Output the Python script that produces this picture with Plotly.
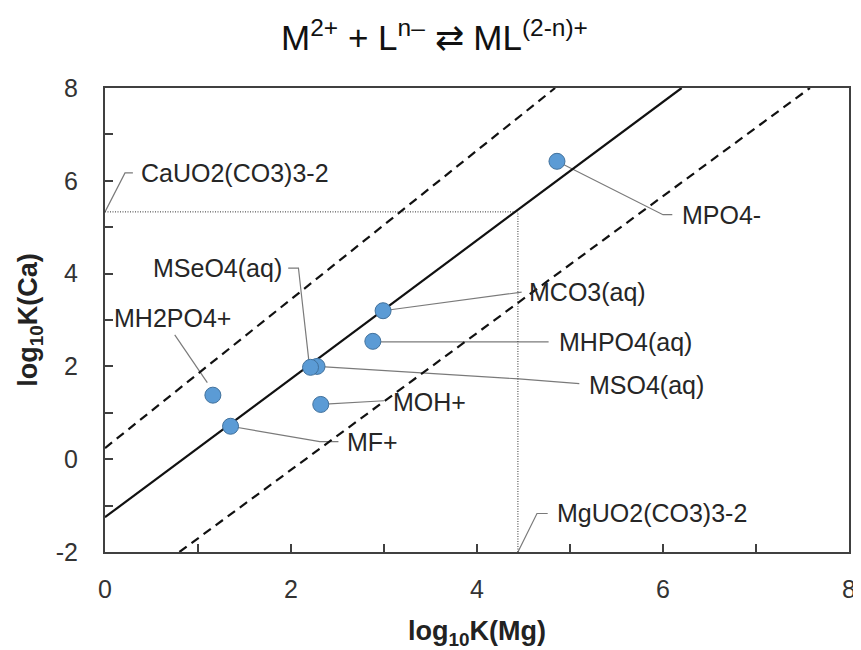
import plotly.graph_objects as go

# ---- data ----
species = ["MPO4-", "MCO3(aq)", "MHPO4(aq)", "MSO4(aq)", "MSeO4(aq)", "MH2PO4+", "MOH+", "MF+"]
logk_mg = [4.86, 2.99, 2.88, 2.28, 2.21, 1.16, 2.32, 1.35]
logk_ca = [6.42, 3.20, 2.54, 2.00, 1.98, 1.38, 1.18, 0.71]

fit_x = [0.0, 6.20]
fit_y = [-1.25, 8.0]
upper_x = [0.0, 4.84]
upper_y = [0.24, 8.0]
lower_x = [0.80, 7.58]
lower_y = [-2.0, 8.0]

uo2_mg = 4.44   # MgUO2(CO3)3-2
uo2_ca = 5.33   # CaUO2(CO3)3-2

x_ticks = [0, 2, 4, 6, 8]
x_ticktext = ["0", "2", "4", "6", "8"]
y_ticks = [-2, 0, 2, 4, 6, 8]
y_ticktext = ["-2", "0", "2", "4", "6", "8"]

# ---- label layout (text position, anchor, leader path) ----
labels = [
    ("MPO4-", 6.18, 5.27, "left", [(4.86, 6.42), (6.0, 5.27), (6.10, 5.27)]),
    ("MCO3(aq)", 4.54, 3.60, "left", [(2.99, 3.20), (4.40, 3.59), (4.48, 3.60)]),
    ("MHPO4(aq)", 4.86, 2.53, "left", [(2.88, 2.53), (4.77, 2.53)]),
    ("MSO4(aq)", 5.18, 1.61, "left", [(2.28, 2.00), (4.45, 1.73), (5.10, 1.63)]),
    ("MSeO4(aq)", 1.92, 4.12, "right", [(1.97, 4.12), (2.08, 4.12), (2.20, 1.98)]),
    ("MH2PO4+", 0.73, 3.05, "center", [(0.75, 2.68), (1.10, 1.65)]),
    ("MOH+", 3.07, 1.24, "left", [(2.32, 1.18), (3.00, 1.26)]),
    ("MF+", 2.58, 0.38, "left", [(1.35, 0.71), (2.31, 0.38), (2.51, 0.38)]),
    ("CaUO2(CO3)3-2", 0.37, 6.17, "left", [(0.0, uo2_ca), (0.215, 6.17), (0.30, 6.17)]),
    ("MgUO2(CO3)3-2", 4.84, -1.17, "left", [(uo2_mg, -2.0), (4.645, -1.17), (4.76, -1.17)]),
]

FONT = "Liberation Sans, Arial, sans-serif"

fig = go.Figure()

# leader lines
for name, tx, ty, anc, path in labels:
    fig.add_trace(go.Scatter(x=[p[0] for p in path], y=[p[1] for p in path], mode="lines",
                             line=dict(color="#7a7a7a", width=1.2), hoverinfo="skip",
                             showlegend=False))

# dotted guide lines
fig.add_trace(go.Scatter(x=[0, uo2_mg], y=[uo2_ca, uo2_ca], mode="lines",
                         line=dict(color="#333333", width=1, dash="1px,1.5px"), showlegend=False))
fig.add_trace(go.Scatter(x=[uo2_mg, uo2_mg], y=[-2, uo2_ca], mode="lines",
                         line=dict(color="#333333", width=1, dash="1px,1.5px"), showlegend=False))

# fit lines
fig.add_trace(go.Scatter(x=fit_x, y=fit_y, mode="lines",
                         line=dict(color="#111111", width=2.2), showlegend=False))
for lx, ly in [(upper_x, upper_y), (lower_x, lower_y)]:
    fig.add_trace(go.Scatter(x=lx, y=ly, mode="lines",
                             line=dict(color="#111111", width=2.2, dash="9px,6px"), showlegend=False))

# points
fig.add_trace(go.Scatter(x=logk_mg, y=logk_ca, mode="markers", text=species,
                         marker=dict(size=16, color="#5B9BD5", line=dict(color="#41719C", width=1)),
                         showlegend=False))

for name, tx, ty, anc, path in labels:
    fig.add_annotation(x=tx, y=ty, text=name, showarrow=False, xanchor=anc, yanchor="middle",
                       font=dict(family=FONT, size=25, color="#262626"))

axis_common = dict(
    showgrid=False, zeroline=False, showline=True, linecolor="#404040", linewidth=2,
    mirror=True, ticks="inside", ticklen=8, tickwidth=1.5, tickcolor="#404040",
    tickfont=dict(family=FONT, size=25, color="#333333"), automargin=False,
    minor=dict(dtick=1, ticks="inside", ticklen=8, tickwidth=1.5, tickcolor="#404040"),
)

# page body has an 8px margin, so the figure is sized/offset to compensate
fig.update_layout(
    width=853, height=642,
    margin=dict(l=97, r=12, t=80, b=98),
    paper_bgcolor="white", plot_bgcolor="white",
    title=dict(text="M<sup>2+</sup> + L<sup>n–</sup> ⇄ ML<sup>(2-n)+</sup>",
               x=0.5, xanchor="center", y=0.953, yref="container", yanchor="middle",
               font=dict(family=FONT, size=35, color="#111111")),
    xaxis=dict(range=[0, 8], tickvals=x_ticks, ticktext=x_ticktext, ticklabelstandoff=14,
               title=dict(text="<b>log<sub>10</sub>K(Mg)</b>", standoff=20,
                          font=dict(family=FONT, size=27, color="#222222")),
               **axis_common),
    yaxis=dict(range=[-2, 8], tickvals=y_ticks, ticktext=y_ticktext, ticklabelstandoff=20,
               title=dict(text="<b>log<sub>10</sub>K(Ca)</b>", standoff=10,
                          font=dict(family=FONT, size=27, color="#222222")),
               **axis_common),
)

fig.write_html("out.html")
